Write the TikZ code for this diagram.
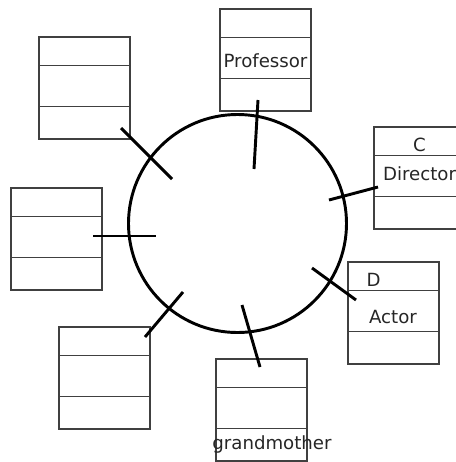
\documentclass[tikz,border=0pt]{standalone}
\usepackage{fontspec}
\setmainfont{DejaVu Sans}
\tikzset{
  boxline/.style={draw=black!75, line width=1.1pt},
  ring/.style={draw=black, line width=2.5pt, circle, inner sep=0pt, minimum size=6.54cm},
  tick/.style={draw=black, line width=2.5pt},
  classtext/.style={font=\fontsize{15.5}{18}\selectfont, text=black!85, inner sep=0pt, anchor=base}
}
\begin{document}
\begin{tikzpicture}[x=0.03cm,y=-0.03cm]
  \def\classbox#1#2{
    \draw[boxline] (#1,#2) rectangle (#1+91,#2+102);
    \draw[boxline] (#1,#2+28.5) -- (#1+91,#2+28.5);
    \draw[boxline] (#1,#2+69.5) -- (#1+91,#2+69.5);
  }
  \useasboundingbox (0,0) rectangle (456,462);

  %%% ring
  \node[ring] (ring) at (237.5,223.5) {};

  %%% boxes
  \classbox{39}{37}
  \classbox{220}{9}
  \classbox{374}{127}
  \classbox{348}{262}
  \classbox{216}{359}
  \classbox{59}{327}
  \classbox{11}{188}

  %%% texts
  \node[classtext] (prof) at (265.5,67) {Professor};
  \node[classtext] (dirC) at (419.5,151) {C};
  \node[classtext] (dir) at (419.5,180) {Director};
  \node[classtext, anchor=base west] (actD) at (366.5,286) {D};
  \node[classtext] (act) at (393,323) {Actor};
  \node[classtext] (gran) at (272,449) {grandmother};

  %%% ticks
  \coordinate (tlA) at (121,128);  \coordinate (tlB) at (172,179);
  \coordinate (prA) at (258,100);  \coordinate (prB) at (254,169);
  \coordinate (diA) at (378,187);  \coordinate (diB) at (329,200);
  \coordinate (acA) at (356,300);  \coordinate (acB) at (312,268);
  \coordinate (grA) at (260,367);  \coordinate (grB) at (242,305);
  \coordinate (blA) at (145,337);  \coordinate (blB) at (183,292);
  \coordinate (lfA) at (93,236);   \coordinate (lfB) at (156,236);
  \foreach \t in {tl,pr,di,ac,gr,bl,lf}
    \draw[tick] (\t A) -- (\t B);
\end{tikzpicture}
\end{document}
